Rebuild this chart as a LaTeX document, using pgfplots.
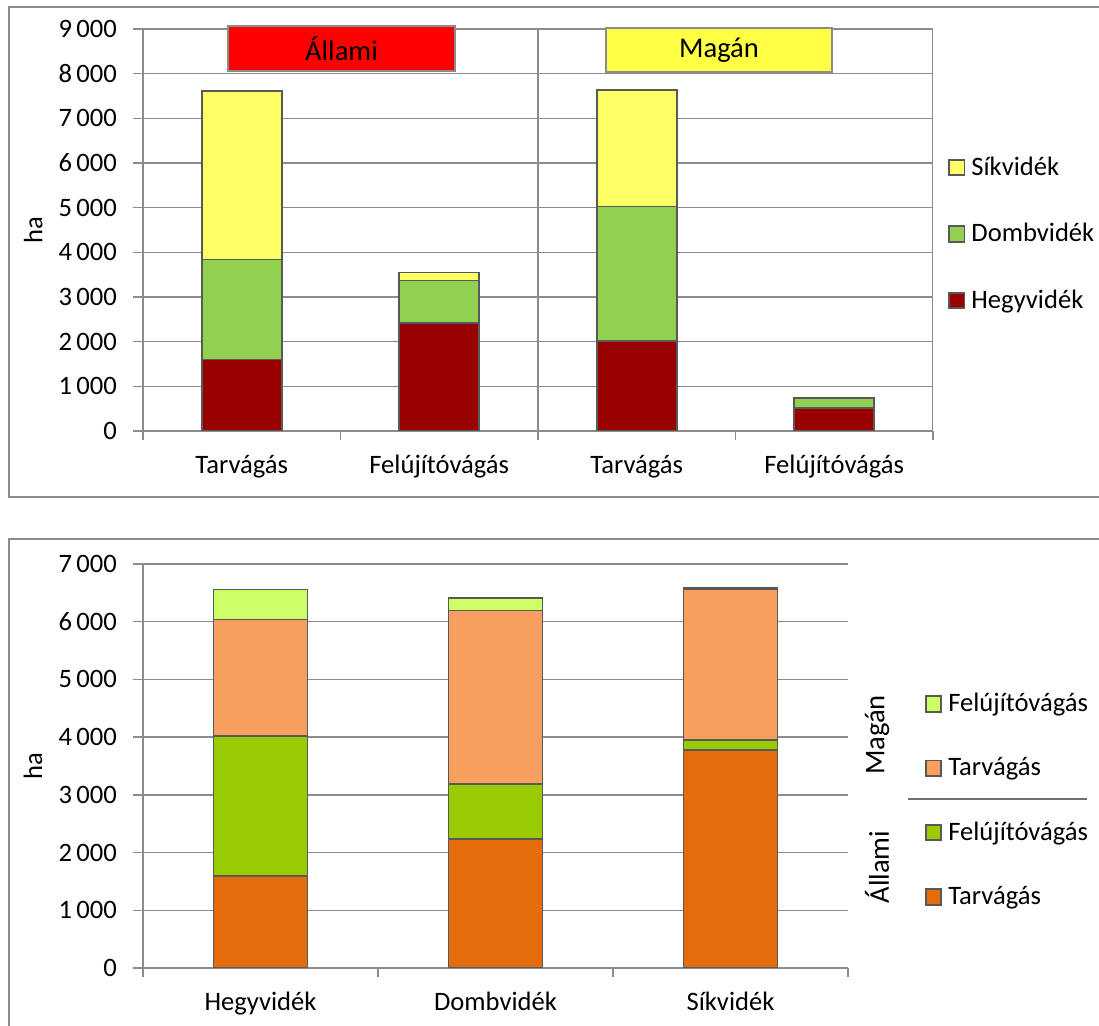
\documentclass[border=0pt]{standalone}
\usepackage{fontspec}
\setmainfont{Carlito}
\usepackage{pgfplots}
\pgfplotsset{compat=1.18}
\definecolor{hegy}{HTML}{990000}
\definecolor{domb}{HTML}{92D050}
\definecolor{sik}{HTML}{FFFF66}
\definecolor{alltarv}{HTML}{E46C0A}
\definecolor{allfel}{HTML}{99CC00}
\definecolor{magtarv}{HTML}{F79F5E}
\definecolor{magfel}{HTML}{CCFF66}
\definecolor{bardraw}{HTML}{595959}
\definecolor{gridgray}{HTML}{8C8C8C}
\definecolor{boxred}{HTML}{FF0000}
\definecolor{boxyellow}{HTML}{FFFF44}
\pgfplotsset{
  sqlegend/.style={legend image code/.code={\draw[##1] (0pt,-3.9pt) rectangle (7.8pt,3.9pt);}},
  common/.style={
    anchor=south west, scale only axis,
    enlargelimits=false, ymin=0,
    ybar stacked,
    axis lines=left,
    axis line style={-, gridgray, line width=0.75pt},
    ymajorgrids, grid style={gridgray, line width=0.75pt},
    tick align=outside,
    major tick length=5pt, minor tick length=4.5pt,
    tick style={gridgray, line width=0.75pt},
    major x tick style={draw=none},
    scaled y ticks=false,
    /pgf/number format/.cd, 1000 sep={\,}, assume math mode=true, /pgfplots/.cd,
    yticklabel style={font=\fontsize{13.3}{16}\selectfont, xshift=-4.5pt},
    xticklabel style={font=\fontsize{13.3}{16}\selectfont, yshift=-3.5pt},
    legend style={draw=none, fill=none, inner sep=0pt, row sep=22pt,
      font=\fontsize{13.3}{16}\selectfont,
      nodes={inner sep=0pt},
      /tikz/every odd column/.append style={column sep=3pt}},
    legend cell align=left,
    reverse legend,
  },
  barst/.style={draw=bardraw, line width=0.9pt, sqlegend},
}
\begin{document}
\begin{tikzpicture}[font=\fontsize{13.3}{16}\selectfont]
\useasboundingbox (0pt,0pt) rectangle (549.5pt,513pt);
% frames
\draw[gridgray, line width=0.75pt] (560pt,509.5pt) -- (4.5pt,509.5pt) -- (4.5pt,264.5pt) -- (560pt,264.5pt);
\draw[gridgray, line width=0.75pt] (560pt,243.5pt) -- (4.5pt,243.5pt) -- (4.5pt,-5pt);

% ---------- top chart ----------
\begin{axis}[common,
  at={(71.5pt,297.5pt)}, width=395pt, height=201pt,
  xmin=-0.5, xmax=3.5, ymax=9000,
  bar width=40pt,
  xtick={0,1,2,3},
  xticklabels={Tarvágás,Felújítóvágás,Tarvágás,Felújítóvágás},
  minor xtick={-0.5,0.5,1.5,2.5,3.5},
  ytick={0,1000,...,9000},
  ylabel={ha},
  ylabel style={at={(axis description cs:-0.139,0.5)}, anchor=center},
  legend style={at={(1.0185,0.49)}, anchor=west, row sep=22.5pt},
]
\addplot[fill=hegy, barst] coordinates {(0,1600) (1,2420) (2,2020) (3,518)};
\addlegendentry{Hegyvidék}
\addplot[fill=domb, barst] coordinates {(0,2240) (1,950) (2,3005) (3,218)};
\addlegendentry{Dombvidék}
\addplot[fill=sik, barst] coordinates {(0,3775) (1,180) (2,2615) (3,0)};
\addlegendentry{Síkvidék}
\draw[gridgray, line width=0.75pt] (axis cs:1.5,0) -- (axis cs:1.5,9000);
\draw[gridgray, line width=0.75pt] (axis cs:3.5,0) -- (axis cs:3.5,9000);
\end{axis}
\node[draw=gridgray, line width=0.75pt, fill=boxred, minimum width=113.5pt, minimum height=22.5pt, inner sep=0pt, font=\fontsize{14.3}{17}\selectfont] at (170.75pt,488.75pt) {Állami};
\node[draw=gridgray, line width=0.75pt, fill=boxyellow, minimum width=113pt, minimum height=22pt, inner sep=0pt, font=\fontsize{14.3}{17}\selectfont] at (359.5pt,488pt) {Magán};

% ---------- bottom chart ----------
\begin{axis}[common,
  at={(71.5pt,29pt)}, width=352.5pt, height=202pt,
  xmin=-0.5, xmax=2.5, ymax=7000,
  bar width=47pt,
  xtick={0,1,2},
  xticklabels={Hegyvidék,Dombvidék,Síkvidék},
  minor xtick={-0.5,0.5,1.5,2.5},
  ytick={0,1000,...,7000},
  ylabel={ha},
  ylabel style={at={(axis description cs:-0.156,0.5)}, anchor=center},
  legend style={at={(1.1085,0.415)}, anchor=west, row sep=21.5pt},
]
\addplot[fill=alltarv, barst] coordinates {(0,1600) (1,2240) (2,3775)};
\addlegendentry{Tarvágás}
\addplot[fill=allfel, barst] coordinates {(0,2420) (1,950) (2,180)};
\addlegendentry{Felújítóvágás}
\addplot[fill=magtarv, barst] coordinates {(0,2020) (1,3005) (2,2615)};
\addlegendentry{Tarvágás}
\addplot[fill=magfel, barst] coordinates {(0,518) (1,218) (2,10)};
\addlegendentry{Felújítóvágás}
\end{axis}
\node[rotate=90, font=\fontsize{14.3}{17}\selectfont] at (438.5pt,145.5pt) {Magán};
\node[rotate=90, font=\fontsize{14.3}{17}\selectfont] at (438.5pt,79.5pt) {Állami};
\draw[gridgray!80!black, line width=0.75pt] (454pt,113.5pt) -- (543.5pt,113.5pt);
\end{tikzpicture}
\end{document}
